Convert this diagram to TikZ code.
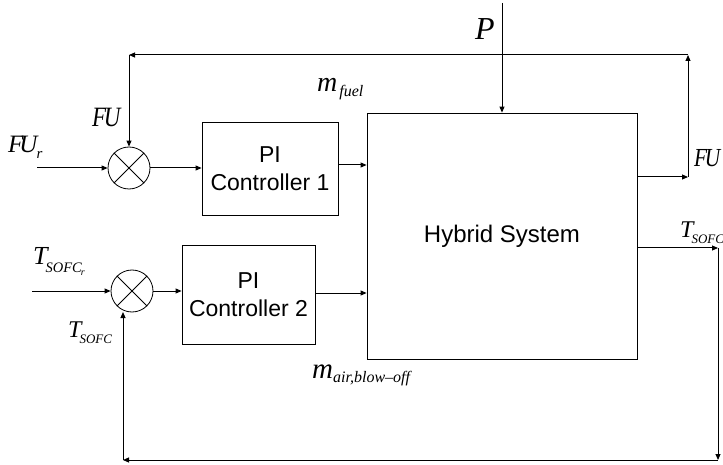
\documentclass[tikz,border=0pt]{standalone}
\usepackage{fontspec}
\setmainfont{Liberation Sans}
\newfontfamily\tms{Liberation Serif}
\usetikzlibrary{arrows.meta}
\begin{document}
\begin{tikzpicture}[x=1pt,y=-1pt,
  arr/.style={line width=1pt,-{Triangle[length=6pt,width=5pt]}},
  blk/.style={draw,line width=0.8pt,inner sep=0pt,font=\fontsize{23}{28}\selectfont,align=center},
  sumc/.style={draw,circle,line width=0.8pt,minimum size=42pt,inner sep=0pt},
  lab/.style={inner sep=0pt,anchor=base west,font=\tms\itshape}]
\useasboundingbox (0,0) rectangle (723,465);
% blocks
\node[blk,minimum width=136pt,minimum height=93pt] (pi1) at (270,168.5) {PI\\Controller 1};
\node[blk,minimum width=133pt,minimum height=99pt] (pi2) at (248.5,294.5) {PI\\Controller 2};
\node[blk,minimum width=270pt,minimum height=246pt,font=\fontsize{24}{28}\selectfont] (hyb) at (502,236) {Hybrid System};
% summing junctions
\node[sumc] (s1) at (129,168) {};
\node[sumc] (s2) at (132,291) {};
\draw[line width=0.8pt] (s1.45) -- (s1.225) (s1.135) -- (s1.315);
\draw[line width=0.8pt] (s2.45) -- (s2.225) (s2.135) -- (s2.315);
% coordinates
\coordinate (in1) at (37,168);
\coordinate (in2) at (32,291);
\coordinate (ptop) at (502,3);
\coordinate (tl1) at (129,55);
\coordinate (tr1) at (688,55);
\coordinate (fo) at (688,177);
\coordinate (to) at (718,248);
\coordinate (bo) at (718,460);
\coordinate (bl) at (123,460);
\coordinate (s2b) at (123,312);
% connectors
\draw[arr] (in1) -- (s1.west);
\draw[arr] (s1.east) -- (pi1.west |- s1.east);
\draw[arr] (pi1.east |- 0,165) -- (hyb.west |- 0,165);
\draw[arr] (in2) -- (s2.west);
\draw[arr] (s2.east) -- (pi2.west |- s2.east);
\draw[arr] (pi2.east |- 0,293) -- (hyb.west |- 0,293);
\draw[arr] (ptop) -- (hyb.north);
\draw[arr] (hyb.east |- fo) -- (fo);
\draw[arr] (fo) -- (tr1);
\draw[arr] (tr1) -- (tl1);
\draw[arr] (tl1) -- (s1.north);
\draw[arr] (hyb.east |- to) -- (to);
\draw[arr] (to) -- (bo);
\draw[arr] (bo) -- (bl);
\draw[arr] (bl) -- (s2b);
% labels
\node[lab] (fu1) at (92,127) {\scalebox{0.82}[1]{\fontsize{28}{28}\selectfont F\kern-3pt U}};
\node[lab] (fur) at (8,153) {\fontsize{25}{25}\selectfont F\kern-4pt U\kern-1pt\raisebox{-6pt}{\fontsize{15}{15}\selectfont r}};
\node[lab] (fu2) at (694,167) {\scalebox{0.82}[1]{\fontsize{26}{26}\selectfont F\kern-3pt U}};
\node[lab] (p) at (475,40) {\fontsize{32}{32}\selectfont P};
\node[lab] (mf) at (317,92) {\fontsize{28}{28}\selectfont m\kern2pt\raisebox{-5pt}{\fontsize{16}{16}\selectfont fuel}};
\node[lab] (ma) at (312,378) {\fontsize{29}{29}\selectfont m\raisebox{-4pt}{\fontsize{16}{16}\selectfont air,blow–off}};
\node[lab] (tr) at (33,265) {\fontsize{26}{26}\selectfont T\kern-2pt\raisebox{-8pt}{\fontsize{14.5}{14.5}\selectfont SOFC\kern-1pt\raisebox{-3pt}{\fontsize{10}{10}\selectfont r}}};
\node[lab] (tl) at (68,337) {\fontsize{24}{24}\selectfont T\kern-2pt\raisebox{-6pt}{\fontsize{13}{13}\selectfont SOFC}};
\node[lab] (trt) at (680,237) {\fontsize{24}{24}\selectfont T\kern-2pt\raisebox{-6pt}{\fontsize{13}{13}\selectfont SOFC}};
\end{tikzpicture}
\end{document}
